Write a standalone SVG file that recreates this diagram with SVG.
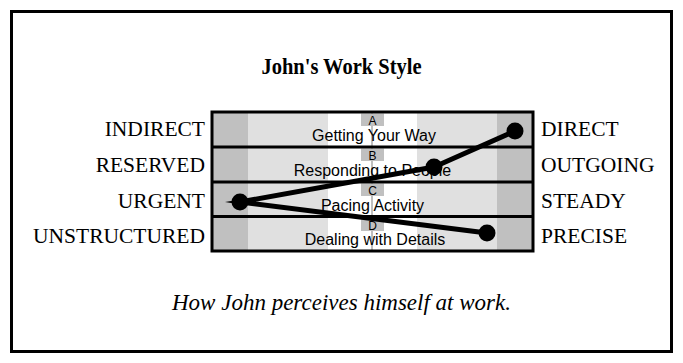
<svg xmlns="http://www.w3.org/2000/svg" width="683" height="363" viewBox="0 0 683 363">
<style>
.serif{font-family:"Liberation Serif","Times New Roman",serif;fill:#000}
.lbl{font-size:21.5px}
.sans{font-family:"Liberation Sans",Arial,sans-serif;fill:#000}
.main{font-size:16px;text-anchor:middle}
.letter{font-size:12px;text-anchor:middle}
.rowline{stroke:#000;stroke-width:3;fill:none}
.tag{fill:#c0c0c0}
.dot{fill:#000}
</style>
<rect x="0" y="0" width="683" height="363" fill="#fff"/>
<rect x="11.5" y="11.5" width="660" height="340" fill="none" stroke="#000" stroke-width="3"/>
<text class="serif" transform="translate(341.5,74) scale(1,1.15)" x="0" y="0" font-size="20.5" font-weight="bold" text-anchor="middle">John's Work Style</text>

<g id="chart">
  <rect x="212" y="112" width="321" height="139" fill="#fff"/>
  <rect x="212" y="112" width="36" height="139" fill="#c0c0c0"/>
  <rect x="248" y="112" width="80" height="139" fill="#e0e0e0"/>
  <rect x="417" y="112" width="80" height="139" fill="#e0e0e0"/>
  <rect x="497" y="112" width="36" height="139" fill="#c0c0c0"/>
  <line x1="372" y1="112" x2="372" y2="251" stroke="#a8a8a8" stroke-width="1.5"/>
</g>

<g id="row-a">
  <rect class="tag" x="361" y="113.5" width="23" height="12.5"/>
  <text class="sans letter" x="372.5" y="124.5">A</text>
  <text class="sans main" x="374" y="140.5">Getting Your Way</text>
  <text class="serif lbl" x="205" y="136" text-anchor="end">INDIRECT</text>
  <text class="serif lbl" x="541" y="136">DIRECT</text>
</g>
<g id="row-b">
  <rect class="tag" x="361" y="148.5" width="23" height="12.5"/>
  <text class="sans letter" x="372.5" y="159.5">B</text>
  <text class="sans main" x="372.5" y="175.5">Responding to People</text>
  <text class="serif lbl" x="205" y="172" text-anchor="end">RESERVED</text>
  <text class="serif lbl" x="541" y="172">OUTGOING</text>
</g>
<g id="row-c">
  <rect class="tag" x="361" y="183.5" width="23" height="12.5"/>
  <text class="sans letter" x="372.5" y="194.5">C</text>
  <text class="sans main" x="372.5" y="211">Pacing Activity</text>
  <text class="serif lbl" x="205" y="208" text-anchor="end">URGENT</text>
  <text class="serif lbl" x="541" y="208">STEADY</text>
</g>
<g id="row-d">
  <rect class="tag" x="361" y="218.5" width="23" height="12.5"/>
  <text class="sans letter" x="372.5" y="229.5">D</text>
  <text class="sans main" x="375" y="245">Dealing with Details</text>
  <text class="serif lbl" x="205" y="243" text-anchor="end">UNSTRUCTURED</text>
  <text class="serif lbl" x="541" y="243">PRECISE</text>
</g>

<g id="grid">
  <rect class="rowline" x="212" y="112" width="321" height="139"/>
  <line class="rowline" x1="212" y1="147" x2="533" y2="147"/>
  <line class="rowline" x1="212" y1="182" x2="533" y2="182"/>
  <line class="rowline" x1="212" y1="216.5" x2="533" y2="216.5"/>
</g>

<g id="connectors">
  <polyline points="515,131 434,167 240,202 487,233" fill="none" stroke="#000" stroke-width="5" stroke-linejoin="round"/>
  <path d="M225,202 L240,199.5 L240,204.5 Z" fill="#000"/>
</g>
<g id="point-a"><circle class="dot" cx="515" cy="131" r="8.5"/></g>
<g id="point-b"><circle class="dot" cx="434" cy="167" r="8.5"/></g>
<g id="point-c"><circle class="dot" cx="240" cy="202" r="8.5"/></g>
<g id="point-d"><circle class="dot" cx="487" cy="233" r="8.5"/></g>

<text class="serif" x="341.5" y="310" font-size="23" font-style="italic" text-anchor="middle">How John perceives himself at work.</text>
</svg>
